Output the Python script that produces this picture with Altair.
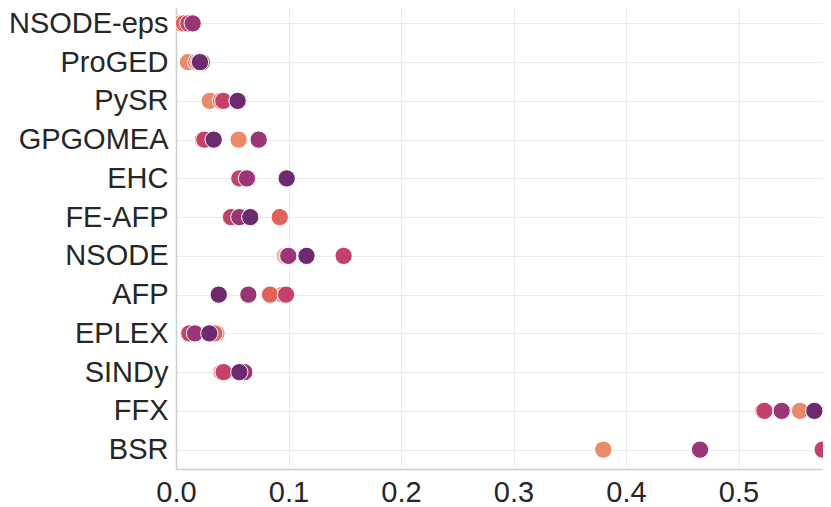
import altair as alt
import pandas as pd

methods = ["NSODE-eps", "ProGED", "PySR", "GPGOMEA", "EHC", "FE-AFP",
           "NSODE", "AFP", "EPLEX", "SINDy", "FFX", "BSR"]
series = ["s1", "s2", "s3", "s4", "s5"]
colors = ["#e98a6b", "#e1625a", "#c4426a", "#9a3675", "#6e2a6e"]

s1 = [0.004, 0.0107, 0.030, 0.0557, 0.064, 0.050, 0.097, 0.095, 0.036, 0.040, 0.5547, 0.3798]
s2 = [0.007, 0.018, 0.040, 0.024, 0.060, 0.0922, 0.099, 0.0836, 0.034, 0.041, 0.522, None]
s3 = [0.011, 0.020, 0.042, 0.0252, 0.0563, 0.0489, 0.149, 0.0978, 0.0118, 0.0424, 0.523, 0.5748]
s4 = [0.0148, 0.0229, 0.0548, 0.0735, 0.063, 0.0563, 0.0998, 0.0643, 0.0169, 0.0607, 0.5384, 0.4658]
s5 = [None, 0.0213, 0.0548, 0.0335, 0.0984, 0.066, 0.116, 0.038, 0.0296, 0.0563, 0.5674, None]

x_ticks = [0.0, 0.1, 0.2, 0.3, 0.4, 0.5]

rows = []
for k, (name, vals) in enumerate(zip(series, [s1, s2, s3, s4, s5])):
    for m, v in zip(methods, vals):
        if v is not None:
            rows.append({"method": m, "value": v, "series": name, "ord": k})
df = pd.DataFrame(rows)

FONT = "Liberation Sans"

chart = alt.Chart(df).mark_circle(
    size=300, opacity=1, stroke="white", strokeWidth=1, clip=True
).encode(
    x=alt.X("value:Q",
            scale=alt.Scale(domain=[0, 0.5751], nice=False, zero=True),
            axis=alt.Axis(values=x_ticks, format=".1f", title=None,
                          labelFlush=False, labelFontSize=29, labelFont=FONT,
                          labelColor="#262626", ticks=False, labelPadding=9,
                          grid=True, gridColor="#ebebeb", gridWidth=1,
                          domainColor="#cfcfcf", domainWidth=1.5)),
    y=alt.Y("method:N", sort=methods,
            scale=alt.Scale(padding=0.5),
            axis=alt.Axis(title=None, labelFontSize=29, labelFont=FONT,
                          labelColor="#262626", ticks=False, labelPadding=8,
                          grid=True, gridColor="#ebebeb", gridWidth=1,
                          domainColor="#cfcfcf", domainWidth=1.5)),
    color=alt.Color("series:N", scale=alt.Scale(domain=series, range=colors),
                    legend=None),
    order=alt.Order("ord:Q"),
).properties(
    width=647,
    height=465,
    padding={"top": -4, "left": 0, "right": 0, "bottom": 0},
).configure_view(stroke=None)

chart.save("out.html", embed_options={"renderer": "svg", "actions": False})
